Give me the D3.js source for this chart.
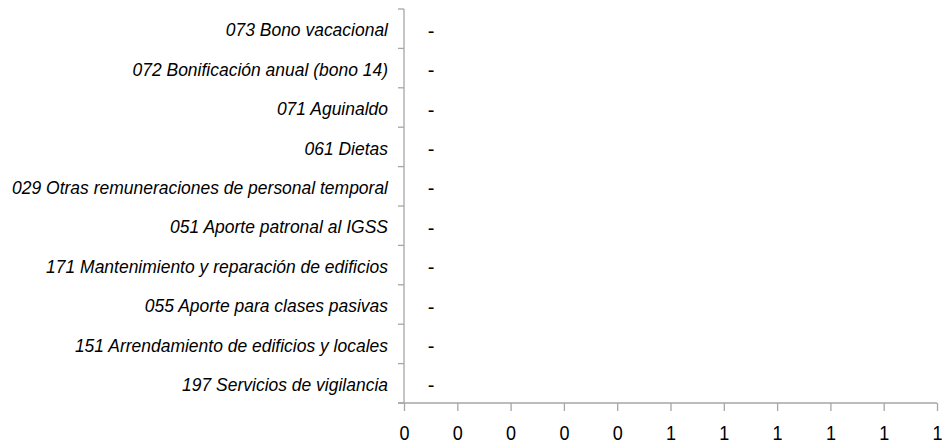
<!DOCTYPE html>
<html>
<head>
<meta charset="utf-8">
<script src="https://cdn.jsdelivr.net/npm/d3@7"></script>
<style>
  body { margin: 0; background: #fff; }
  svg { display: block; }
</style>
</head>
<body>
<svg id="chart"></svg>
<script>
const categories = [
  '073 Bono vacacional',
  '072 Bonificación anual (bono 14)',
  '071 Aguinaldo',
  '061 Dietas',
  '029 Otras remuneraciones de personal temporal',
  '051 Aporte patronal al IGSS',
  '171 Mantenimiento y reparación de edificios',
  '055 Aporte para clases pasivas',
  '151 Arrendamiento de edificios y locales',
  '197 Servicios de vigilancia'
];
const values = [0, 0, 0, 0, 0, 0, 0, 0, 0, 0];
const xTicks = [0, 0.1, 0.2, 0.3, 0.4, 0.5, 0.6, 0.7, 0.8, 0.9, 1];

const createChart = () => {
  const width = 945;
  const height = 446;
  const margin = { top: 9, right: 8, bottom: 43, left: 404 };
  const narrow = 0.86; // squeeze Arial toward the Arial Narrow look

  const svg = d3.select('#chart')
    .attr('width', width)
    .attr('height', height)
    .style('font-family', 'Arial, "Liberation Sans", sans-serif');

  const x = d3.scaleLinear()
    .domain([0, 1])
    .range([margin.left, width - margin.right]);

  const y = d3.scaleBand()
    .domain(categories)
    .range([margin.top, height - margin.bottom])
    .paddingInner(0.4)
    .paddingOuter(0.2);

  const yLines = d3.scaleBand()
    .domain(categories)
    .range([margin.top, height - margin.bottom]);

  // bars (all zero)
  svg.append('g')
    .attr('fill', '#4f81bd')
    .selectAll('rect')
    .data(values)
    .join('rect')
    .attr('x', x(0))
    .attr('y', (d, i) => y(categories[i]))
    .attr('height', y.bandwidth())
    .attr('width', d => x(d) - x(0));

  // y axis line and ticks
  const gy = svg.append('g').attr('stroke', '#a6a6a6').attr('stroke-width', 1.3);
  gy.append('line')
    .attr('x1', x(0)).attr('x2', x(0))
    .attr('y1', margin.top).attr('y2', height - margin.bottom);
  gy.selectAll('line.tick')
    .data(categories.concat(['__end']))
    .join('line')
    .attr('class', 'tick')
    .attr('x1', x(0) - 6).attr('x2', x(0))
    .attr('y1', d => d === '__end' ? height - margin.bottom : yLines(d))
    .attr('y2', d => d === '__end' ? height - margin.bottom : yLines(d));

  // category labels
  svg.append('g')
    .selectAll('text')
    .data(categories)
    .join('text')
    .attr('transform', d => `translate(${x(0) - 16},${yLines(d) + yLines.bandwidth() / 2 + 1}) scale(0.92,1)`)
    .attr('dy', '0.35em')
    .attr('text-anchor', 'end')
    .attr('font-style', 'italic')
    .attr('font-size', 19)
    .attr('fill', '#000')
    .text(d => d);

  // data labels
  svg.append('g')
    .selectAll('text')
    .data(values)
    .join('text')
    .attr('x', d => x(d) + 27)
    .attr('y', (d, i) => yLines(categories[i]) + yLines.bandwidth() / 2 + 2)
    .attr('dy', '0.35em')
    .attr('text-anchor', 'middle')
    .attr('font-size', 20)
    .attr('fill', '#000')
    .text(d => d === 0 ? '-' : d);

  // x axis
  const xAxis = d3.axisBottom(x)
    .tickValues(xTicks)
    .tickFormat(d => String(Math.round(d)))
    .tickSize(8)
    .tickPadding(14);

  const gx = svg.append('g')
    .attr('transform', `translate(0,${height - margin.bottom})`)
    .call(xAxis);
  gx.select('.domain')
    .attr('stroke', '#a6a6a6')
    .attr('stroke-width', 1.3)
    .attr('d', `M${x(0) - 6},0H${x(1)}`);
  gx.selectAll('.tick line').attr('stroke', '#a6a6a6').attr('stroke-width', 1.3);
  gx.selectAll('.tick text')
    .attr('fill', '#000')
    .attr('font-size', 21)
    .attr('text-anchor', 'middle')
    .attr('transform', `scale(${narrow},1)`);
};

window.addEventListener('DOMContentLoaded', () => {
  createChart();
});
</script>
</body>
</html>
